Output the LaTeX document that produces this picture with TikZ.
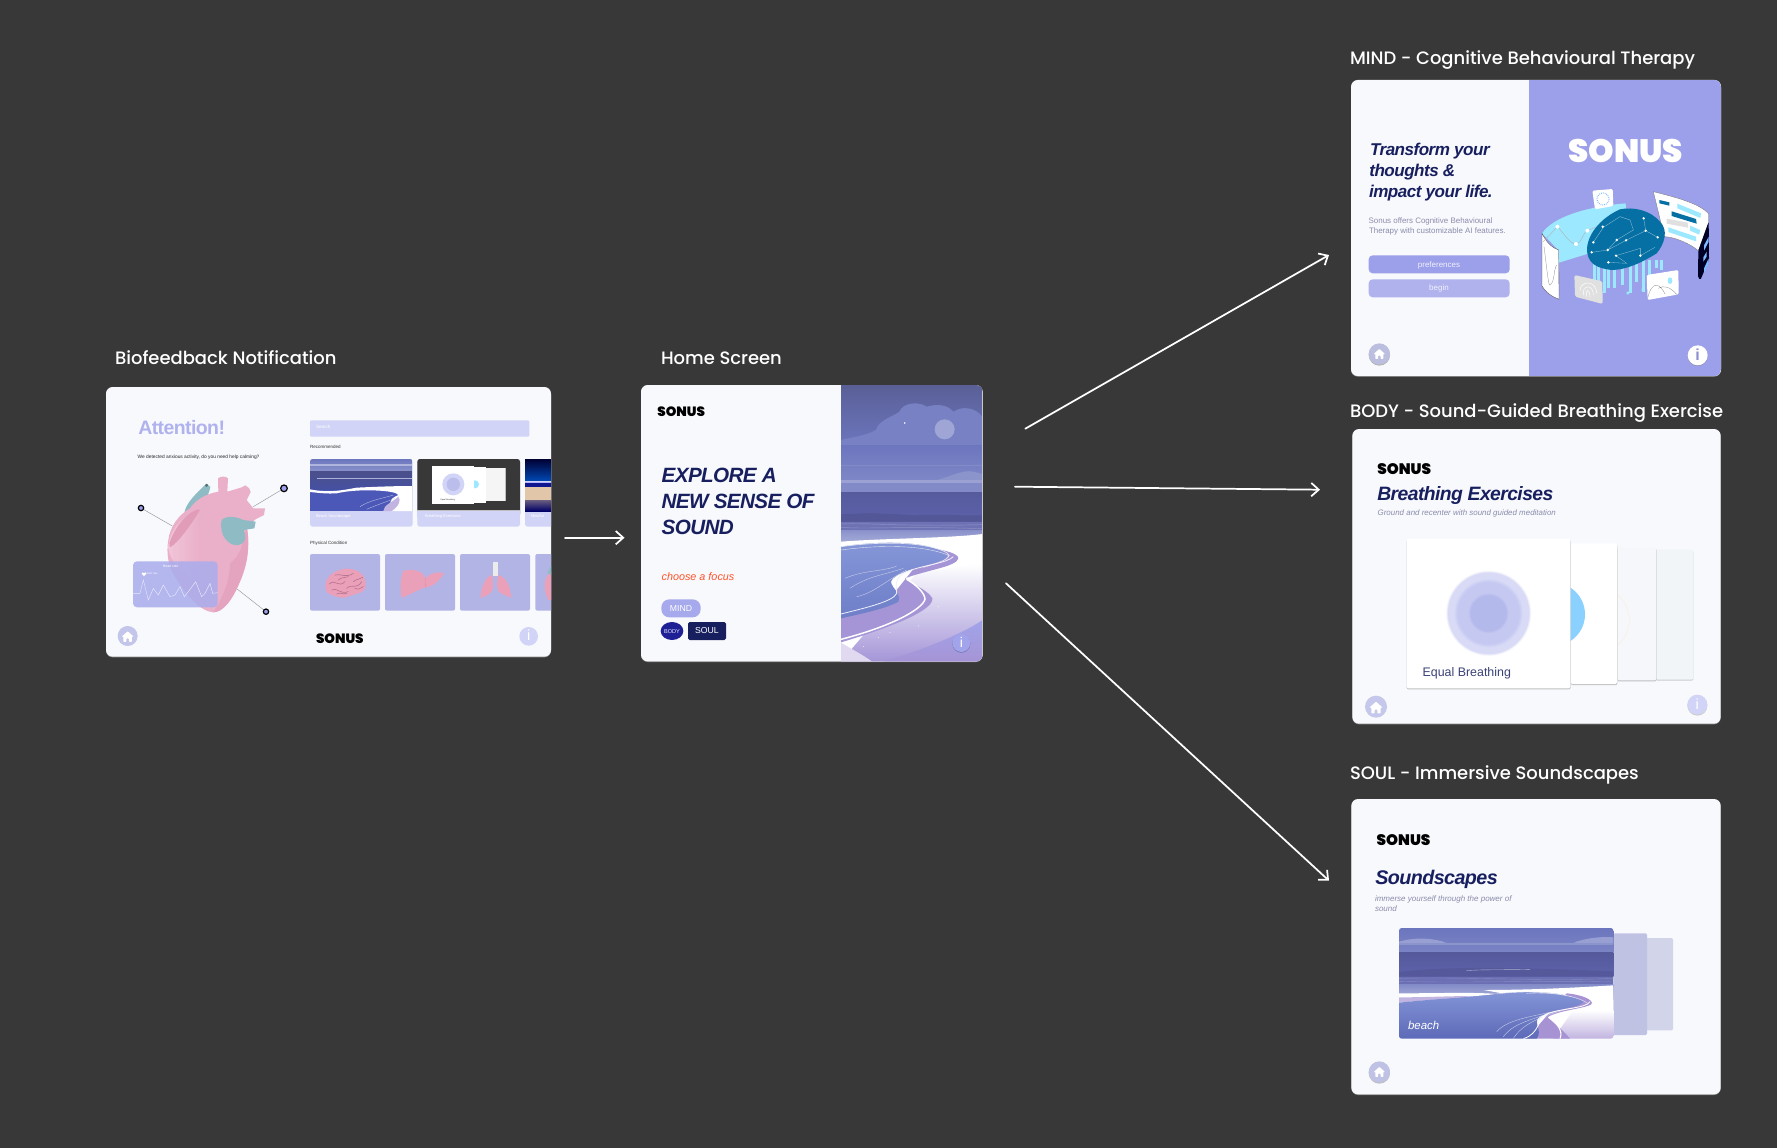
\documentclass[tikz,border=0pt]{standalone}
\usepackage{fontspec}
\usetikzlibrary{arrows.meta}
\setmainfont{Liberation Sans}
\newfontfamily\popf{Poppins}[UprightFont=* Medium]
\newfontfamily\logof{Poppins}[UprightFont=* Black]
\newfontfamily\headf{Liberation Sans}[LetterSpace=-3]
\definecolor{bgc}{HTML}{383838}
\definecolor{cardc}{HTML}{F8F9FD}
\definecolor{navy}{HTML}{171F5F}
\definecolor{peri}{HTML}{9C9FE9}
\definecolor{paleperi}{HTML}{D1D4F6}
\definecolor{tile}{HTML}{B1B4E5}
\definecolor{homec}{HTML}{C3C5EA}
\definecolor{pinkh}{HTML}{EAB0CA}
\definecolor{pinkd}{HTML}{D98BAA}
\definecolor{pinkl}{HTML}{F3CADB}
\definecolor{pinko}{HTML}{EBA0BA}
\definecolor{tealh}{HTML}{8FBCC4}
\definecolor{cyanc}{HTML}{9BE8FF}
\definecolor{brainb}{HTML}{0670A4}
\definecolor{subg}{HTML}{8A8CAB}
\definecolor{lilac}{HTML}{A793D3}
\definecolor{seaA}{HTML}{5E63AC}
\definecolor{skyA}{HTML}{5A5F96}
\definecolor{skyB}{HTML}{6C76BE}
\definecolor{lagA}{HTML}{8596D8}
\definecolor{lagB}{HTML}{6E7EC8}
\definecolor{lagC}{HTML}{5D6AB8}
\definecolor{thumbsea}{HTML}{4450A8}
\definecolor{thumblag}{HTML}{4C58B8}
\definecolor{bodyblue}{HTML}{1E2196}
\tikzset{
  zm/.style 2 args={shift={(#1,#2)},x=0.25pt,y=-0.25pt},
  card/.style={fill=cardc,rounded corners=5pt},
  cardedge/.style={fill=black!45,rounded corners=5pt},
  txt/.style={inner sep=0pt,outer sep=0pt,anchor=base west,align=left},
  ctr/.style={inner sep=0pt,outer sep=0pt,anchor=center},
  title/.style={txt,text=white,font=\popf\fontsize{13.47}{16}\selectfont},
  logo/.style={txt,text=black,font=\logof\fontsize{#1}{#1}\selectfont},
  head/.style={txt,text=navy,font=\headf\bfseries\itshape\fontsize{#1}{#1}\selectfont},
  flow/.style={draw=white,line width=1.3pt,line cap=round,-{Straight Barb[length=5.6pt,width=10pt,line width=1.3pt]}},
  wire/.style={draw=gray!80,line width=0.35pt},
}
\newcommand{\homeicon}[3]{\fill[white,shift={(#1,#2)},scale=#3,rounded corners=0.4pt] (-1,0)--(0,-0.9)--(1,0)--(0.7,0)--(0.7,0.85)--(0.22,0.85)--(0.22,0.3)--(-0.22,0.3)--(-0.22,0.85)--(-0.7,0.85)--(-0.7,0)--cycle;}
\begin{document}
\begin{tikzpicture}[x=0.75pt,y=-0.75pt]
\useasboundingbox (0,0) rectangle (1777,1148);
\fill[bgc] (0,0) rectangle (1777,1148);

% ---------- titles
\node[title] (t1) at (115,364) {Biofeedback Notification};
\node[title] (t2) at (661,364) {Home Screen};
\node[title] (t3) at (1350,65) {MIND - Cognitive Behavioural Therapy};
\node[title] (t4) at (1350,417) {BODY - Sound-Guided Breathing Exercise};
\node[title] (t5) at (1350,779) {SOUL - Immersive Soundscapes};

% ---------- arrows
\coordinate (a0s) at (565,537.7); \coordinate (a0e) at (624.5,537.7);
\coordinate (a1s) at (1025.3,428.7); \coordinate (a1e) at (1329,255);
\coordinate (a2s) at (1015,486.7); \coordinate (a2e) at (1320,489.7);
\coordinate (a3s) at (1006,583.3); \coordinate (a3e) at (1329,880.7);
\draw[flow] (a0s) -- (a0e);
\draw[flow] (a1s) -- (a1e);
\draw[flow] (a2s) -- (a2e);
\draw[flow] (a3s) -- (a3e);

% ================= Biofeedback
\begin{scope}[zm={90}{330}]
\fill[cardedge] (48,174) rectangle (1383,982);
\fill[card] (48,171) rectangle (1383,980);
\node[txt,text=peri!80,font=\headf\bfseries\fontsize{14.6}{15}\selectfont] (att) at (145,312) {Attention!};
\node[txt,text=black!85,font=\fontsize{3.64}{4}\selectfont] (att2) at (143,384) {We detected anxious activity, do you need help calming?};
\fill[paleperi,rounded corners=0.8pt] (660,271) rectangle (1318,320);
\node[txt,text=white,font=\fontsize{3.4}{4}\selectfont] (srch) at (678,296) {Search};
\node[txt,text=black!80,font=\fontsize{3.4}{4}\selectfont] (rec) at (660,356) {Recommended};
\node[txt,text=black!80,font=\fontsize{3.4}{4}\selectfont] (phys) at (660,642) {Physical Condition};
\begin{scope}
\clip[rounded corners=5pt] (48,171) rectangle (1383,980);
% rec cards
\fill[paleperi,rounded corners=2pt] (660,387) rectangle (968,590);
\fill[paleperi,rounded corners=2pt] (982,387) rectangle (1290,590);
\fill[paleperi,rounded corners=2pt] (1305,387) rectangle (1440,590);
\begin{scope}
\clip[rounded corners=2pt] (660,387) rectangle (968,600);
\clip (660,387) rectangle (968,543);
\shade[top color=skyB,bottom color=skyB!80!white] (660,387) rectangle (968,424);
\fill[white!45!skyB] (660,403) rectangle (968,407);
\shade[top color=seaA!80!black,bottom color=thumbsea] (660,424) rectangle (968,490);
\fill[white!50!seaA] (680,445) rectangle (968,446.5);
\fill[thumblag] (660,480) rectangle (968,543);
\fill[white] (660,478) .. controls (720,490) and (760,480) .. (800,473) .. controls (860,470) and (920,468) .. (968,468) -- (968,543) -- (900,543) .. controls (905,520) and (890,510) .. (925,495) .. controls (920,480) and (800,475) .. (740,490) .. controls (710,492) and (680,488) .. (660,486) -- cycle;
\fill[lilac!70!white] (880,543) .. controls (880,525) and (910,515) .. (925,500) .. controls (935,510) and (925,530) .. (905,543) -- cycle;
\draw[white!70!skyB,line width=0.2pt] (810,530) .. controls (840,510) and (880,505) .. (910,495) (830,538) .. controls (860,525) and (890,515) .. (915,505);
\end{scope}
\fill[bgc,rounded corners=2pt] (982,387) rectangle (1290,560);
\fill[paleperi] (982,543) rectangle (1290,565);
\fill[gray!50!white] (982,541) rectangle (1290,543);
\fill[white!92!gray] (1188,415) rectangle (1247,514);
\draw[gray!50,line width=0.3pt] (1247,415) -- (1247,514);
\fill[white] (1152,411) rectangle (1188,518);
\fill[cyanc] (1155,463) circle[radius=12];
\fill[white] (1027,407) rectangle (1152,521);
\fill[paleperi] (1090,463) circle[radius=33];
\fill[tile!70!paleperi] (1090,463) circle[radius=20];
\node[txt,text=black!80,font=\fontsize{1.5}{2}\selectfont] (eq0) at (1052,510) {Equal Breathing};
% third image
\shade[top color=blue!20!black,bottom color=blue!60!cyan!70!black] (1305,387) rectangle (1400,452);
\fill[white!70!blue] (1305,455) rectangle (1400,458);
\fill[blue!30!navy] (1305,458) rectangle (1400,470);
\fill[brown!45!white] (1305,470) rectangle (1400,512);
\shade[top color=lilac!60!black,bottom color=blue!40!black] (1305,512) rectangle (1400,543);
\node[txt,text=white,font=\fontsize{3}{4}\selectfont] (c1) at (678,563) {Beach Soundscape};
\node[txt,text=white,font=\fontsize{3}{4}\selectfont] (c2) at (1005,563) {Breathing Exercises};
\node[txt,text=white,font=\fontsize{3}{4}\selectfont] (c3) at (1323,563) {Mindful};
% tiles
\foreach \xa/\xb in {660/870,885/1095,1110/1320,1336/1540}{\fill[tile,rounded corners=1.5pt] (\xa,672) rectangle (\xb,842);}
% brain
\fill[pinko] (706,770) .. controls (705,745) and (730,718) .. (770,716) .. controls (810,716) and (830,740) .. (827,768) .. controls (825,790) and (800,790) .. (780,797) .. controls (760,810) and (740,800) .. (725,795) .. controls (712,790) and (707,785) .. (706,770) -- cycle;
\draw[pinkd!85!black,line width=0.5pt,line cap=round] (718,762) .. controls (735,745) and (745,775) .. (765,755) (735,735) .. controls (750,730) and (770,745) .. (790,730) (770,775) .. controls (785,760) and (800,780) .. (815,755) (725,780) .. controls (740,770) and (750,795) .. (775,785) (790,755) .. controls (800,745) and (810,750) .. (818,742) (745,750) .. controls (755,740) and (765,745) .. (775,740) (740,792) .. controls (750,785) and (760,795) .. (770,790) (795,775) .. controls (805,780) and (812,775) .. (820,770);
% liver
\fill[pinko] (940,722) .. controls (975,715) and (1000,725) .. (1007,745) .. controls (1025,725) and (1045,725) .. (1062,730) .. controls (1050,750) and (1030,770) .. (1008,772) .. controls (990,775) and (960,795) .. (935,803) .. controls (930,780) and (930,745) .. (940,722) -- cycle;
\draw[pinkd,line width=0.3pt] (1007,745) .. controls (1003,755) and (1005,765) .. (1008,772);
% lungs
\fill[white!85!gray] (1209,696) rectangle (1224,738);
\fill[pinko] (1207,735) .. controls (1210,760) and (1212,770) .. (1205,785) .. controls (1190,800) and (1180,800) .. (1172,804) .. controls (1172,775) and (1185,740) .. (1207,735) -- cycle;
\fill[pinko] (1224,735) .. controls (1221,760) and (1219,770) .. (1226,785) .. controls (1240,795) and (1252,798) .. (1263,804) .. controls (1263,775) and (1250,740) .. (1224,735) -- cycle;
% partial heart
\fill[pinko] (1383,725) .. controls (1365,740) and (1355,770) .. (1375,810) -- (1390,810) -- (1390,725) -- cycle;
\fill[tealh] (1372,728) -- (1383,708) -- (1383,735) -- cycle;
\end{scope}
% heart
\draw[wire] (153,534) -- (247,588);
\draw[wire] (582,475) -- (490,530);
\draw[wire] (528,845) -- (435,772);
\path[draw=black,fill=peri,line width=0.9pt] (153,534) circle[radius=8] (582,475) circle[radius=10] (528,845) circle[radius=8];
\fill[tealh] (348,462) -- (361,470) .. controls (358,495) and (340,515) .. (330,535) -- (283,548) .. controls (290,515) and (320,490) .. (348,462) -- cycle;
\fill[tealh!60!black] (350,466) circle[radius=5];
\fill[pinkh] (384,445) .. controls (392,438) and (408,438) .. (414,445) -- (412,485) -- (455,472) -- (466,466) .. controls (475,470) and (482,478) .. (482,486) -- (470,510) -- (490,535) -- (525,535) -- (522,555) -- (498,567) -- (470,590) .. controls (480,640) and (475,700) .. (450,755) .. controls (430,805) and (400,848) .. (370,847) .. controls (330,845) and (285,790) .. (255,740) .. controls (235,710) and (228,670) .. (235,630) .. controls (240,590) and (265,555) .. (300,535) .. controls (320,505) and (355,490) .. (385,485) -- cycle;
\shade[left color=pinkl,right color=pinkh,opacity=0.8] (235,650) .. controls (240,600) and (270,560) .. (330,540) .. controls (320,600) and (330,680) .. (330,760) .. controls (280,730) and (240,700) .. (235,650) -- cycle;
\fill[pinkd!55!pinkh] (240,652) .. controls (262,640) and (300,590) .. (330,540) -- (322,538) .. controls (290,550) and (255,590) .. (238,640) -- cycle;
\fill[pinkd!35!pinkh] (420,700) .. controls (450,680) and (460,640) .. (470,590) .. controls (482,650) and (470,710) .. (445,765) .. controls (425,810) and (400,845) .. (370,847) .. controls (400,800) and (420,750) .. (420,700) -- cycle;
\fill[tealh] (395,570) .. controls (410,555) and (440,560) .. (460,570) -- (497,575) -- (493,595) -- (462,600) .. controls (468,620) and (470,640) .. (445,645) .. controls (420,650) and (385,620) .. (395,570) -- cycle;
% overlay
\fill[peri!85!white,opacity=0.88,rounded corners=3pt] (129,694) rectangle (383,832);
\draw[white!80!peri,line width=0.3pt] (130,790) -- (150,790) -- (160,750) -- (175,810) -- (190,775) -- (205,795) -- (220,765) -- (240,800) -- (255,795) -- (270,770) -- (283,800) -- (295,785) -- (317,755) -- (335,800) -- (345,790) -- (360,760) -- (368,790) -- (383,788);
\node[ctr,text=white,font=\fontsize{2.6}{3}\selectfont] (hr) at (242,709) {Heart rate};
\node[ctr,text=white,font=\fontsize{2}{3}\selectfont] (bpm) at (185,730) {Heart rate};
\fill[white] (162,738) -- (155,731) .. controls (156,726) and (161,726) .. (162,730) .. controls (163,726) and (168,726) .. (169,731) -- cycle;
% footer
\fill[homec] (113,918) circle[radius=30];
\homeicon{113}{920}{18}
\fill[paleperi] (1316,919) circle[radius=28];
\node[ctr,text=white,font=\fontsize{11}{11}\selectfont] (i1) at (1316,917) {i};
\node[logo=10.1] (l1) at (678,940) {SONUS};
\end{scope}

% ================= Home
\begin{scope}[zm={630}{330}]
\fill[cardedge] (33,168) rectangle (1058,996);
\fill[card] (33,165) rectangle (1058,994);
\begin{scope}
\clip[rounded corners=5pt] (33,165) rectangle (1058,994);
\clip (633,165) rectangle (1058,994);
\shade[top color=skyA,bottom color=skyB] (633,165) rectangle (1058,345);
\fill[skyB!92!white] (633,345) -- (633,330) .. controls (670,320) and (700,320) .. (738,300) .. controls (745,270) and (790,260) .. (808,245) .. controls (820,215) and (870,215) .. (890,230) .. controls (920,222) and (950,222) .. (970,245) .. controls (1000,225) and (1040,235) .. (1058,262) -- (1058,345) -- cycle;
\fill[white!35!skyB] (944,298) circle[radius=30];
\fill[white] (824,279) circle[radius=2.5] (988,372) circle[radius=2];
\shade[top color=skyB,bottom color=skyB!88!white] (633,345) rectangle (1058,450);
\fill[skyB!85!white] (633,405) rectangle (1058,408);
\fill[white!22!skyB] (920,450) .. controls (960,440) and (1000,418) .. (1030,425) -- (1058,432) -- (1058,455) -- cycle;
\fill[white!32!skyB] (633,451) rectangle (1058,460);
\fill[skyB!85!white] (633,460) rectangle (1058,485);
\fill[white!50!skyB] (633,485) rectangle (1058,488);
\shade[top color=seaA!92!black,bottom color=seaA] (633,488) rectangle (1058,600);
\fill[seaA!88!black] (633,553) .. controls (700,548) and (780,550) .. (850,556) .. controls (950,552) and (1000,558) .. (1058,556) -- (1058,575) -- (633,575) -- cycle;
\fill[white!10!seaA] (633,575) rectangle (1058,600);
\draw[white!30!seaA,line width=0.35pt] (633,582) .. controls (720,578) and (800,590) .. (1058,584) (633,592) .. controls (720,598) and (800,588) .. (1058,596);
\shade[top color=skyB!80!white,bottom color=white!45!skyB] (633,600) rectangle (1058,650);
% sand
\fill[white] (633,635) .. controls (760,625) and (950,625) .. (1058,612) -- (1058,994) -- (633,994) -- cycle;
% lilac lower right
\shade[top color=white,bottom color=lilac!80!peri] (633,994) -- (1058,994) -- (1058,700) -- (860,730) -- cycle;
\shade[top color=peri!95!white,bottom color=lilac!90!peri] (1058,870) -- (1058,994) -- (760,994) .. controls (880,960) and (1000,910) .. (1058,870) -- cycle;
\fill[white!65!lilac] (633,938) -- (633,994) -- (725,994) .. controls (700,975) and (660,955) .. (633,938) -- cycle;
% purple wet sand
\fill[lilac!85!peri] (900,655) .. controls (950,660) and (985,672) .. (985,685) .. controls (980,710) and (890,720) .. (825,745) .. controls (840,760) and (895,780) .. (907,805) .. controls (912,840) and (790,890) .. (633,937) -- (633,840) -- (800,780) -- cycle;
\draw[white,line width=1.1pt] (830,748) .. controls (860,765) and (885,790) .. (885,808) .. controls (875,840) and (780,890) .. (633,928);
% lagoon
\shade[top color=lagA,bottom color=lagB] (633,650) .. controls (750,632) and (880,632) .. (945,668) .. controls (965,685) and (930,695) .. (890,705) .. controls (830,722) and (790,735) .. (783,755) .. controls (785,775) and (815,790) .. (805,815) .. controls (770,835) and (700,850) .. (633,865) -- cycle;
\draw[white!80!skyB,line width=0.5pt] (633,650) .. controls (780,630) and (900,640) .. (950,668) .. controls (975,685) and (920,700) .. (880,712);
\draw[white!80!skyB,line width=0.3pt] (633,660) .. controls (780,640) and (900,650) .. (960,678);
\draw[white!70!skyB,line width=0.25pt] (645,745) .. controls (700,720) and (760,725) .. (800,708) (660,775) .. controls (710,740) and (760,735) .. (820,715) (680,800) .. controls (730,790) and (770,750) .. (830,720);
\draw[white!90!skyB,line width=0.6pt] (633,852) .. controls (700,835) and (790,815) .. (800,790) .. controls (800,765) and (790,745) .. (830,725) .. controls (880,705) and (950,700) .. (970,680);
\fill[white] (745,922) circle[radius=1.3] (780,908) circle[radius=1.3] (700,950) circle[radius=1.3] (865,888) circle[radius=1.3] (925,830) circle[radius=1.3];
\end{scope}
\fill[peri!70!black] (994,941) circle[radius=27];
\fill[peri!95!white] (994,939) circle[radius=27];
\node[ctr,text=white,font=\fontsize{10.5}{11}\selectfont] (i2) at (994,938) {i};
\node[logo=10.1] (l2) at (82,260) {SONUS};
\node[head=15.5] (h2a) at (95,457) {EXPLORE A};
\node[head=15.5] (h2b) at (95,535) {NEW SENSE OF};
\node[head=15.5] (h2c) at (95,612) {SOUND};
\node[txt,text=orange!40!red!85!white,font=\itshape\fontsize{8.1}{9}\selectfont] (cf) at (95,752) {choose a focus};
\fill[peri!90!white,rounded corners=6pt] (94,808) rectangle (212,862);
\node[ctr,text=white,font=\fontsize{6.5}{7}\selectfont] (m2) at (153,835) {MIND};
\fill[bodyblue] (126,903) ellipse[x radius=34,y radius=27];
\node[ctr,text=white!80!peri,font=\fontsize{4.2}{5}\selectfont] (b2) at (126,904) {BODY};
\fill[navy,rounded corners=1.2pt] (174,876) rectangle (288,930);
\node[ctr,text=white,font=\fontsize{6.5}{7}\selectfont] (s2) at (231,903) {SOUL};
\end{scope}

% ================= MIND
\begin{scope}[zm={1340}{40}]
\fill[cardedge] (33,123) rectangle (1143,1010);
\fill[card] (33,120) rectangle (1143,1008);
\begin{scope}
\clip[rounded corners=5pt] (33,120) rectangle (1143,1008);
\fill[peri] (566,120) rectangle (1143,1008);
\end{scope}
\node[head=12.8] (h3a) at (90,348) {Transform your};
\node[head=12.8] (h3b) at (88,411) {thoughts \&};
\node[head=12.8] (h3c) at (87,474) {impact your life.};
\node[txt,text=subg,font=\fontsize{5.95}{6}\selectfont] (s3a) at (86,552) {Sonus offers Cognitive Behavioural};
\node[txt,text=subg,font=\fontsize{5.95}{6}\selectfont] (s3b) at (87,582) {Therapy with customizable AI features.};
\fill[peri,rounded corners=3pt] (86,646) rectangle (509,700);
\node[ctr,text=white!85!peri,font=\fontsize{6}{7}\selectfont] (b3a) at (297,675) {preferences};
\fill[peri!80!white,rounded corners=3pt] (86,718) rectangle (509,772);
\node[ctr,text=white!85!peri,font=\fontsize{6}{7}\selectfont] (b3b) at (297,746) {begin};
\fill[gray!60] (118,945) circle[radius=32];
\fill[homec!90!gray] (118,942) circle[radius=32];
\homeicon{118}{942}{17}
\fill[gray!60!peri] (1073,948) circle[radius=30];
\fill[white] (1073,946) circle[radius=30];
\node[ctr,text=peri!90!black,font=\bfseries\fontsize{12}{12}\selectfont] (i3) at (1073,945) {i};
\node[logo=24.3,text=white] (l3) at (685,368) {SONUS};
% illustration
\fill[cyanc] (606,580) .. controls (640,530) and (740,500) .. (857,490) -- (860,560) -- (780,630) -- (657,668) -- (655,630) -- cycle;
\fill[white,draw=black!70,line width=0.25pt] (606,580) .. controls (620,610) and (640,625) .. (656,630) -- (657,778) .. controls (635,770) and (615,755) .. (606,738) -- cycle;
\draw[black!50,line width=0.2pt] (612,620) .. controls (620,680) and (625,740) .. (630,735) .. controls (645,725) and (640,690) .. (650,675);
\draw[white!40!gray,line width=0.3pt] (610,605) -- (652,560) .. controls (665,570) and (690,615) .. (708,612) .. controls (725,610) and (730,575) .. (742,572) -- (780,556);
\fill[white] (652,560) circle[radius=6] (708,612) circle[radius=6] (742,572) circle[radius=6];
\fill[white,rounded corners=1pt] (757,452) -- (818,447) -- (820,498) -- (765,508) -- cycle;
\draw[cyanc!80!blue,line width=0.9pt,dash pattern=on 0.5pt off 0.9pt] (789,477) circle[radius=18];
% bars under brain
\foreach \xp/\ya in {760/720,772/735,790/760,802/745,818/745,842/735,866/760,885/725,905/755,925/715,945/685,960/690}{\fill[cyanc] (\xp,660) rectangle ++(9,\ya-660);}
\fill[cyanc] (775,735) rectangle ++(9,10) (860,755) rectangle ++(7,8) (905,745) rectangle ++(5,8);
% right panel
\fill[white,draw=black!60,line width=0.2pt] (940,455) .. controls (1000,470) and (1080,490) .. (1106,522) -- (1106,548) -- (1075,632) .. controls (1050,610) and (1000,590) .. (973,590) -- cycle;
\fill[brainb] (958,480) -- (988,487) -- (988,497) -- (958,490) -- cycle;
\fill[cyanc] (1012,491) -- (1083,520) -- (1081,534) -- (1012,505) -- cycle;
\fill[brainb] (995,514) -- (1068,537) -- (1070,551) -- (995,528) -- cycle;
\fill[black!12] (980,536) -- (1044,548) -- (1044,563) -- (980,551) -- cycle;
\fill[cyanc] (1050,557) -- (1080,570) -- (1078,584) -- (1050,572) -- cycle;
\fill[cyanc] (985,562) -- (1068,590) -- (1068,604) -- (985,576) -- cycle;
\fill[black!85!blue,rounded corners=1pt] (1106,545) -- (1107,660) -- (1081,720) -- (1074,712) -- (1075,632) -- cycle;
\fill[cyanc!80!blue] (1092,616) -- (1106,590) -- (1106,605) -- (1092,632) -- cycle (1090,652) -- (1100,635) -- (1100,650) -- (1090,665) -- cycle (1092,685) -- (1106,655) -- (1106,670) -- (1092,700) -- cycle;
% brain
\fill[brainb] (741,625) .. controls (745,575) and (790,530) .. (840,508) .. controls (880,500) and (930,510) .. (960,545) .. controls (985,570) and (975,610) .. (950,640) .. controls (910,665) and (860,690) .. (815,690) .. controls (770,685) and (740,670) .. (741,625) -- cycle;
\draw[white!55!brainb,line width=0.25pt] (760,607) -- (790,562) -- (840,530) -- (870,540) -- (880,570) -- (830,600) -- (803,630) -- (755,637) (803,630) -- (858,601) -- (917,572) -- (953,592) (828,647) -- (901,625) -- (901,647) (828,647) -- (860,670) -- (805,667) (911,535) -- (917,572) (901,647) -- (945,622);
\fill[white] (788,560) circle[radius=4] (911,535) circle[radius=4] (917,572) circle[radius=4] (953,592) circle[radius=4] (760,607) circle[radius=4] (830,600) circle[radius=4] (858,601) circle[radius=4] (803,630) circle[radius=4] (755,637) circle[radius=4] (828,647) circle[radius=4] (901,647) circle[radius=4] (805,667) circle[radius=4];
% fingerprint
\fill[black!12,rounded corners=1.2pt] (703,705) -- (787,724) -- (788,792) -- (705,770) -- cycle;
\draw[white,line width=0.35pt] (720,752) .. controls (720,720) and (770,720) .. (770,760) (730,765) .. controls (725,735) and (760,730) .. (760,765) (740,770) .. controls (735,745) and (750,745) .. (750,772);
% image card
\fill[white,rounded corners=1pt] (920,705) -- (1015,690) -- (1016,763) -- (923,780) -- cycle;
\fill[cyanc] (990,722) ellipse[x radius=7,y radius=10];
\draw[black!50,line width=0.2pt] (923,775) .. controls (935,720) and (960,730) .. (975,762) (955,745) .. controls (970,735) and (990,740) .. (1010,763);
\end{scope}

% ================= BODY
\begin{scope}[zm={1340}{395}]
\definecolor{backA}{HTML}{F2F5F8}
\definecolor{backB}{HTML}{F5F7FB}
\definecolor{softA}{HTML}{D8DAF6}
\definecolor{softB}{HTML}{C5C9F2}
\definecolor{softC}{HTML}{B4B9EC}
\fill[cardedge] (37,105) rectangle (1142,988);
\fill[card] (37,102) rectangle (1142,986);
\node[logo=11.4] (l4) at (112,237) {SONUS};
\node[head=14.5] (h4) at (112,315) {Breathing Exercises};
\node[txt,text=subg,font=\itshape\fontsize{5.95}{6}\selectfont] (s4) at (113,362) {Ground and recenter with sound guided meditation};
\fill[gray!40,rounded corners=1pt] (948,466) rectangle (1060,857);
\fill[backA,rounded corners=1pt] (948,463) rectangle (1060,854);
\fill[gray!50,rounded corners=1pt] (832,461) rectangle (950,859);
\fill[backB,rounded corners=1pt] (832,458) rectangle (949,856);
\begin{scope}\clip (832,458) rectangle (949,855);
\draw[orange!15!white,line width=0.3pt] (770,675) circle[radius=98];
\end{scope}
\fill[gray!50,rounded corners=1pt] (692,448) rectangle (832,870);
\fill[white,rounded corners=1pt] (692,445) rectangle (831,867);
\fill[cyanc!90!blue] (640,658) circle[radius=95];
\fill[gray!50,rounded corners=1pt] (200,434) rectangle (692,883);
\fill[white,rounded corners=1pt] (200,431) rectangle (691,880);
\foreach \r/\m in {128/15,126/40,124/70,122/100}{\fill[softA!\m!white] (446,655) circle[radius=\r];}
\foreach \r/\m in {102/25,99/55,96/80,93/100}{\fill[softB!\m!softA] (446,655) circle[radius=\r];}
\foreach \r/\m in {60/33,57/66,54/100}{\fill[softC!\m!softB] (446,655) circle[radius=\r];}
\node[txt,text=navy!85!white,font=\fontsize{9.3}{10}\selectfont] (eq) at (248,844) {Equal Breathing};
\fill[homec!95!white] (108,935) circle[radius=33];
\homeicon{108}{938}{20}
\fill[gray!40] (1072,932) circle[radius=30];
\fill[paleperi] (1072,929) circle[radius=30];
\node[ctr,text=white,font=\fontsize{11}{11}\selectfont] (i4) at (1072,928) {i};
\end{scope}

% ================= SOUL
\begin{scope}[zm={1340}{760}]
\definecolor{backC}{HTML}{D2D4EA}
\definecolor{backD}{HTML}{BFC2E2}
\fill[cardedge] (34,120) rectangle (1142,1005);
\fill[card] (34,117) rectangle (1142,1003);
\node[logo=11.4] (l5) at (110,256) {SONUS};
\node[head=14.8] (h5) at (106,372) {Soundscapes};
\node[txt,text=subg,font=\itshape\fontsize{6}{6}\selectfont] (s5a) at (105,425) {immerse yourself through the power of};
\node[txt,text=subg,font=\itshape\fontsize{6}{6}\selectfont] (s5b) at (105,455) {sound};
\fill[backC,rounded corners=1pt] (820,534) rectangle (999,811);
\fill[backD,rounded corners=1pt] (820,520) rectangle (921,825);
\begin{scope}
\clip[rounded corners=2pt] (177,504) rectangle (820,836);
\shade[top color=skyB,bottom color=skyB!90!white] (177,504) rectangle (820,578);
\fill[skyB!70!white] (177,545) .. controls (230,530) and (280,535) .. (320,548) -- (177,552) -- cycle (700,548) .. controls (750,530) and (800,530) .. (820,532) -- (820,552) -- cycle;
\fill[white!22!skyB] (177,549) rectangle (820,555);
\fill[white!45!skyB] (177,575) rectangle (820,578);
\shade[top color=seaA!90!black,bottom color=seaA] (177,578) rectangle (820,650);
\fill[seaA!90!black] (177,636) .. controls (300,620) and (500,620) .. (820,634) -- (820,650) -- (177,650) -- cycle;
\draw[white!50!seaA,line width=0.3pt] (380,632) .. controls (420,628) and (500,630) .. (570,628);
\fill[white!8!seaA] (177,650) rectangle (820,672);
\draw[white!25!seaA,line width=0.3pt] (177,655) .. controls (400,650) and (600,665) .. (820,655) (177,664) .. controls (400,670) and (600,660) .. (820,666);
\shade[top color=skyB!85!white,bottom color=white!45!skyB] (177,672) rectangle (820,720);
% sand
\fill[white] (430,690) .. controls (600,690) and (750,680) .. (820,676) -- (820,836) -- (600,836) -- (600,720) -- cycle;
\shade[top color=white,bottom color=lilac!70!white] (640,836) -- (820,836) -- (820,750) -- (700,750) -- cycle;
% left spit
\fill[white] (177,700) .. controls (300,700) and (400,696) .. (470,702) .. controls (400,710) and (300,715) .. (177,730) -- cycle;
\fill[lilac!70!white] (177,712) .. controls (260,712) and (330,708) .. (400,708) .. controls (330,716) and (260,720) .. (177,728) -- cycle;
% wet sand
\fill[lilac] (680,700) .. controls (730,705) and (760,720) .. (755,732) .. controls (740,745) and (660,750) .. (625,770) .. controls (640,790) and (670,810) .. (690,836) -- (560,836) -- cycle;
% lagoon
\shade[top color=lagA,bottom color=lagC] (177,728) .. controls (300,715) and (400,712) .. (470,702) .. controls (560,690) and (680,695) .. (730,725) .. controls (720,745) and (640,745) .. (600,770) .. controls (575,785) and (610,810) .. (590,836) -- (177,836) -- cycle;
\draw[white!80!skyB,line width=0.3pt] (470,702) .. controls (560,690) and (680,695) .. (735,725) (560,700) .. controls (640,695) and (720,710) .. (745,732);
\draw[white!70!skyB,line width=0.25pt] (470,815) .. controls (500,780) and (570,770) .. (640,755) (490,830) .. controls (520,790) and (570,780) .. (660,750) (520,835) .. controls (550,790) and (600,770) .. (690,745);
\draw[white,line width=0.6pt] (550,836) .. controls (600,820) and (590,780) .. (620,762) .. controls (660,745) and (740,745) .. (750,725);
\draw[white,line width=0.8pt] (625,772) .. controls (650,790) and (670,810) .. (660,836);
\end{scope}
\node[txt,text=white,font=\itshape\fontsize{8.6}{9}\selectfont] (bc) at (204,807) {beach};
\fill[gray!50] (118,939) circle[radius=32];
\fill[homec!95!gray] (118,936) circle[radius=32];
\homeicon{118}{936}{17}
\end{scope}
\end{tikzpicture}
\end{document}
